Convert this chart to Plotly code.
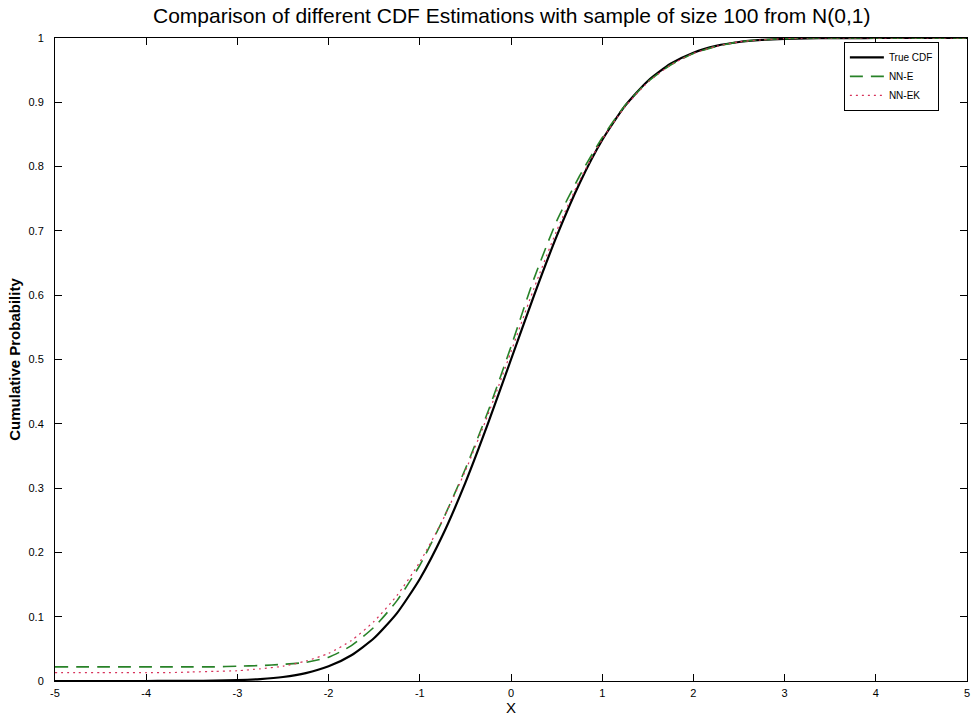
import plotly.graph_objects as go

# Evaluation grid on the X axis
x_grid = [-5.0, -4.75, -4.5, -4.25, -4.0, -3.75, -3.5, -3.25, -3.0, -2.75,
          -2.5, -2.25, -2.0, -1.75, -1.5, -1.25, -1.0, -0.75, -0.5, -0.25,
          0.0, 0.25, 0.5, 0.75, 1.0, 1.25, 1.5, 1.75, 2.0, 2.25,
          2.5, 2.75, 3.0, 3.25, 3.5, 3.75, 4.0, 4.25, 4.5, 4.75, 5.0]

# Standard normal CDF
true_cdf = [0.0000, 0.0000, 0.0000, 0.0000, 0.0000, 0.0001, 0.0002, 0.0006, 0.0013, 0.0030,
            0.0062, 0.0122, 0.0228, 0.0401, 0.0668, 0.1056, 0.1587, 0.2266, 0.3085, 0.4013,
            0.5000, 0.5987, 0.6915, 0.7734, 0.8413, 0.8944, 0.9332, 0.9599, 0.9772, 0.9878,
            0.9938, 0.9970, 0.9987, 0.9994, 0.9998, 0.9999, 1.0000, 1.0000, 1.0000, 1.0000, 1.0000]

# Neural-network estimate (NN-E)
nn_e = [0.022, 0.022, 0.022, 0.022, 0.022, 0.022, 0.022, 0.022, 0.023, 0.024,
        0.026, 0.029, 0.037, 0.055, 0.084, 0.125, 0.180, 0.250, 0.330, 0.420,
        0.520, 0.625, 0.715, 0.785, 0.845, 0.895, 0.932, 0.958, 0.976, 0.987,
        0.994, 0.997, 0.999, 1.000, 1.000, 1.000, 1.000, 1.000, 1.000, 1.000, 1.000]

# Neural-network estimate with kernel (NN-EK)
nn_ek = [0.013, 0.013, 0.013, 0.013, 0.013, 0.013, 0.014, 0.015, 0.016, 0.019,
         0.023, 0.031, 0.043, 0.063, 0.093, 0.133, 0.185, 0.250, 0.327, 0.415,
         0.512, 0.610, 0.700, 0.778, 0.842, 0.893, 0.931, 0.958, 0.976, 0.987,
         0.994, 0.997, 0.999, 1.000, 1.000, 1.000, 1.000, 1.000, 1.000, 1.000, 1.000]

x_ticks = [-5, -4, -3, -2, -1, 0, 1, 2, 3, 4, 5]
y_ticks = [0, 0.1, 0.2, 0.3, 0.4, 0.5, 0.6, 0.7, 0.8, 0.9, 1]
y_tick_text = ["0", "0.1", "0.2", "0.3", "0.4", "0.5", "0.6", "0.7", "0.8", "0.9", "1"]

FONT = "Liberation Sans, Arial, sans-serif"

fig = go.Figure()
fig.add_trace(go.Scatter(x=x_grid, y=true_cdf, mode="lines", name="True CDF",
                         line=dict(color="black", width=2.2, shape="spline", smoothing=0.6)))
fig.add_trace(go.Scatter(x=x_grid, y=nn_e, mode="lines", name="NN-E",
                         line=dict(color="rgb(40,130,40)", width=1.6, dash="13px,8px",
                                   shape="spline", smoothing=0.6)))
fig.add_trace(go.Scatter(x=x_grid, y=nn_ek, mode="lines", name="NN-EK",
                         line=dict(color="rgb(215,50,90)", width=1.2, dash="2px,4px",
                                   shape="spline", smoothing=0.6)))

axis_common = dict(showline=True, linecolor="black", linewidth=1, mirror="ticks",
                   ticks="inside", ticklen=7, tickcolor="black", tickwidth=1,
                   showgrid=False, zeroline=False, ticklabeloverflow="allow",
                   tickfont=dict(family=FONT, size=11, color="black"))

fig.update_xaxes(range=[-5, 5], tickvals=x_ticks, ticktext=[str(t) for t in x_ticks],
                 ticklabelstandoff=2,
                 title=dict(text="X", font=dict(family=FONT, size=15, color="black"), standoff=4),
                 **axis_common)
fig.update_yaxes(range=[0, 1], tickvals=y_ticks, ticktext=y_tick_text,
                 ticklabelstandoff=8,
                 title=dict(text="<b>Cumulative Probability</b>",
                            font=dict(family=FONT, size=15, color="black"), standoff=4),
                 **axis_common)

fig.update_layout(
    width=971, height=719,
    margin=dict(l=55, r=1, t=38, b=38),
    paper_bgcolor="white", plot_bgcolor="white",
    title=dict(text="Comparison of different CDF Estimations with sample of size 100 from N(0,1)",
               x=0.527, xanchor="center", y=0.988, yanchor="top",
               font=dict(family=FONT, size=21, color="black")),
    legend=dict(x=0.865, y=0.994, xanchor="left", yanchor="top",
                bgcolor="white", bordercolor="black", borderwidth=1,
                font=dict(family=FONT, size=10, color="black"),
                tracegroupgap=0, itemwidth=34),
    showlegend=True,
)

fig.write_html("out.html")
